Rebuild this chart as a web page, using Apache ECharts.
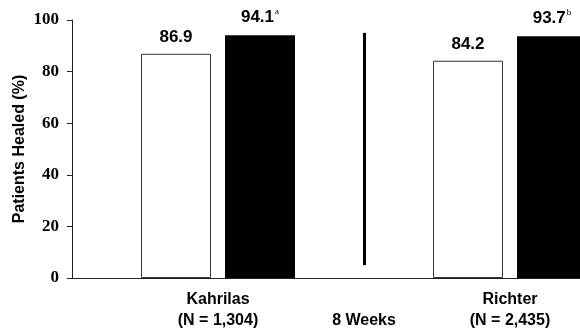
<!DOCTYPE html>
<html><head><meta charset="utf-8">
<script src="https://cdn.jsdelivr.net/npm/echarts@6/dist/echarts.min.js"></script>
<style>html,body{margin:0;padding:0;background:#fff}#c{width:580px;height:328px}</style>
</head><body><div id="c"></div>
<script>
var categories = ['Kahrilas\n(N = 1,304)', '\n8 Weeks', 'Richter\n(N = 2,435)'];
var controlValues = [86.9, null, 84.2];
var treatValues = [94.1, null, 93.7];
var treatMarks = ['a', null, 'b'];
var yTicks = [0, 20, 40, 60, 80, 100];
var dividerCategory = '\n8 Weeks';
var dividerRange = [5, 95];

var axisCats = [''].concat(categories, ['']);
function pad(arr) { return [null].concat(arr, [null]); }
var marks = pad(treatMarks);

var chart = echarts.init(document.getElementById('c'), null, {renderer: 'canvas'});
chart.setOption({
  animation: false,
  grid: {left: 72, right: -76, top: 20, bottom: 50, containLabel: false, outerBoundsMode: 'none'},
  xAxis: {
    type: 'category', data: axisCats, boundaryGap: false,
    axisLine: {lineStyle: {color: '#222', width: 1}},
    axisTick: {show: false},
    axisLabel: {interval: 0, margin: 11, color: '#000', fontFamily: 'Liberation Sans', fontWeight: 'bold', fontSize: 16, lineHeight: 21}
  },
  yAxis: {
    type: 'value', min: yTicks[0], max: yTicks[yTicks.length - 1], interval: 20,
    name: 'Patients Healed (%)', nameLocation: 'middle', nameGap: 44, nameMoveOverlap: false,
    nameTextStyle: {fontFamily: 'Liberation Sans', fontWeight: 'bold', fontSize: 16, color: '#000'},
    axisLine: {show: true, lineStyle: {color: '#222', width: 1}},
    axisTick: {show: true, length: 5, lineStyle: {color: '#222'}},
    splitLine: {show: false},
    axisLabel: {margin: 13, color: '#000', fontFamily: 'Liberation Serif', fontWeight: 'bold', fontSize: 17}
  },
  series: [
    {
      type: 'bar', data: pad(controlValues), barWidth: 70, barGap: '20%',
      itemStyle: {color: '#fff', borderColor: '#333', borderWidth: 1},
      label: {show: true, position: 'top', distance: 8, color: '#000', fontFamily: 'Liberation Sans', fontWeight: 'bold', fontSize: 17,
        formatter: function (p) { return p.value == null ? '' : p.value.toFixed(1); }}
    },
    {
      type: 'bar', data: pad(treatValues), barWidth: 70,
      itemStyle: {color: '#000'},
      label: {show: true, position: 'top', distance: 8,
        formatter: function (p) { return p.value == null ? '' : '{v|' + p.value.toFixed(1) + '}{s|' + marks[p.dataIndex] + '}'; },
        rich: {
          v: {color: '#000', fontFamily: 'Liberation Sans', fontWeight: 'bold', fontSize: 17, lineHeight: 20},
          s: {color: '#000', fontFamily: 'Liberation Serif', fontSize: 9, lineHeight: 20, verticalAlign: 'top', padding: [0, 0, 8, 1]}
        }
      }
    },
    {
      type: 'line', data: [], silent: true, symbol: 'none',
      markLine: {
        silent: true, symbol: ['none', 'none'], label: {show: false},
        lineStyle: {color: '#000', width: 3, type: 'solid'},
        data: [[{coord: [dividerCategory, dividerRange[0]]}, {coord: [dividerCategory, dividerRange[1]]}]]
      }
    }
  ]
});
</script></body></html>
